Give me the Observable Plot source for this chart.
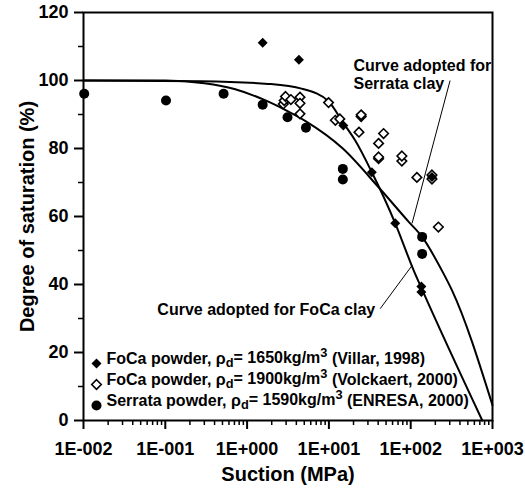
<!DOCTYPE html>
<html><head><meta charset="utf-8">
<script src="https://cdn.jsdelivr.net/npm/d3@7"></script>
<script src="https://cdn.jsdelivr.net/npm/@observablehq/plot@0.6"></script>
<style>
html,body{margin:0;padding:0;background:#fff;}
#chart svg{display:block;}
</style></head><body><div id="chart"></div>
<script>
// ---- Data ----
const xTicks = [0.01, 0.1, 1, 10, 100, 1000];
const xTickLabels = ["1E-002", "1E-001", "1E+000", "1E+001", "1E+002", "1E+003"];
const yTicks = [0, 20, 40, 60, 80, 100, 120];
const yMinorTicks = [10, 30, 50, 70, 90, 110];

// FoCa powder, rho_d = 1650 (Villar, 1998) - filled diamonds
const villarSuction    = [1.55, 4.3, 15, 33.5, 64.7, 135, 135, 182];
const villarSaturation = [111.1, 106.1, 86.8, 73, 58, 39.4, 37.8, 71.6];

// FoCa powder, rho_d = 1900 (Volckaert, 2000) - open diamonds
const volckaertSuction    = [2.77, 2.84, 2.95, 3.43, 4.43, 4.43, 4.43, 9.9, 12.0, 13.6, 23.3, 24.8, 24.8, 40.5, 46.6, 40.5, 40.5, 78, 78, 119, 182, 182, 218];
const volckaertSaturation = [93.1, 94.1, 95.3, 94.4, 95.1, 93.3, 90.2, 93.5, 88.3, 88.7, 84.8, 89.4, 89.9, 81.5, 84.4, 77, 77.5, 76.3, 77.8, 71.5, 72.2, 71.0, 56.9];

// Serrata powder, rho_d = 1590 (ENRESA, 2000) - filled circles
const serrataSuction    = [0.0102, 0.102, 0.516, 1.55, 3.12, 5.24, 14.8, 14.8, 138, 138];
const serrataSaturation = [96.1, 94.1, 96.1, 92.9, 89.2, 86.1, 74, 70.9, 54, 49];

// Curve adopted for Serrata clay
const serrataCurveSuction    = [0.01, 0.1, 0.3, 0.7, 1.55, 3.12, 5.24, 14.8, 40.5, 94, 138, 242, 321, 1000];
const serrataCurveSaturation = [100, 100, 99.2, 97.5, 94.5, 91, 88, 80, 68.6, 58.5, 54, 44, 38.2, 4.5];

// Curve adopted for FoCa clay
const focaCurveSuction    = [0.01, 0.275, 1.81, 4.63, 9.86, 15, 20.9, 33.5, 64.7, 109, 138, 750];
const focaCurveSaturation = [100, 99.8, 99.0, 97.6, 93.9, 87.5, 82.4, 73, 58, 44.1, 38.5, 0];

// Legend entries
const legendMaterials = ["FoCa powder", "FoCa powder", "Serrata powder"];
const legendDensities = [1650, 1900, 1590];
const legendSources = ["Villar, 1998", "Volckaert, 2000", "ENRESA, 2000"];

// Annotations
const annotationTexts = ["Curve adopted for\nSerrata clay", "Curve adopted for FoCa clay"];
const annotationX = [20, 36.8];
const annotationY = [101.8, 32.4];
const leaderX1 = [303, 42.4];
const leaderY1 = [100, 32.9];
const leaderX2 = [104, 104];
const leaderY2 = [58, 45.6];

// ---- Build tables ----
const zip = (xs, ys) => xs.map((x, i) => ({x, y: ys[i]}));
const villar = zip(villarSuction, villarSaturation);
const volckaert = zip(volckaertSuction, volckaertSaturation);
const serrata = zip(serrataSuction, serrataSaturation);
const serrataCurve = zip(serrataCurveSuction, serrataCurveSaturation);
const focaCurve = zip(focaCurveSuction, focaCurveSaturation);
const leaders = leaderX1.map((x1, i) => ({x1, y1: leaderY1[i], x2: leaderX2[i], y2: leaderY2[i]}));
const minorX = [];
for (const d of xTicks.slice(0, -1)) for (let k = 2; k <= 9; k++) minorX.push(+(k * d).toPrecision(3));

const FONT = "'Liberation Sans', Arial, Helvetica, sans-serif";
const legendDy = [-57, -36, -15];
const legendSymbols = [
  {symbol: "diamond2", r: 4.5, fill: "#000", stroke: "none", strokeWidth: 0},
  {symbol: "diamond2", r: 4.3, fill: "#fff", stroke: "#000", strokeWidth: 1.6},
  {symbol: "circle", r: 5, fill: "#000", stroke: "none", strokeWidth: 0}
];
const legendMarks = legendMaterials.flatMap((m, i) => [
  Plot.dot([0], {frameAnchor: "bottom-left", dx: 13, dy: legendDy[i], ...legendSymbols[i]}),
  Plot.text([`${m}, ρd= ${legendDensities[i]}kg/m3 (${legendSources[i]})`], {
    frameAnchor: "bottom-left", dx: 23, dy: legendDy[i], textAnchor: "start",
    fontSize: 16, fontWeight: "bold", fill: "#000", className: `legend-text-${i}`})
]);

const chart = Plot.plot({
  width: 525,
  height: 490,
  marginLeft: 83,
  marginRight: 33,
  marginTop: 12,
  marginBottom: 70,
  style: {fontFamily: FONT, fontWeight: "bold", color: "#000", background: "#fff"},
  x: {type: "log", domain: [0.01, 1000], label: null},
  y: {domain: [0, 120], label: null},
  marks: [
    Plot.axisX(minorX, {tickSize: 5, strokeWidth: 1.5, tickFormat: () => "", label: null}),
    Plot.axisX(xTicks, {tickSize: 9, tickPadding: 13, strokeWidth: 2, fontSize: 18, fontWeight: "bold",
      tickFormat: (d) => xTickLabels[xTicks.indexOf(d)], label: null}),
    Plot.axisY(yMinorTicks, {tickSize: 5, strokeWidth: 1.5, tickFormat: () => "", label: null}),
    Plot.axisY(yTicks, {tickSize: 9, tickPadding: 6, strokeWidth: 2, fontSize: 18, fontWeight: "bold", label: null}),
    Plot.frame({stroke: "#000", strokeWidth: 2}),
    Plot.line(serrataCurve, {x: "x", y: "y", curve: "monotone-x", stroke: "#000", strokeWidth: 2}),
    Plot.line(focaCurve, {x: "x", y: "y", curve: "monotone-x", stroke: "#000", strokeWidth: 2}),
    Plot.link(leaders, {x1: "x1", y1: "y1", x2: "x2", y2: "y2", stroke: "#000", strokeWidth: 1}),
    Plot.dot(volckaert, {x: "x", y: "y", symbol: "diamond2", r: 4.3, fill: "#fff", stroke: "#000", strokeWidth: 1.6}),
    Plot.dot(villar, {x: "x", y: "y", symbol: "diamond2", r: 4.5, fill: "#000", stroke: "none"}),
    Plot.dot(serrata, {x: "x", y: "y", symbol: "circle", r: 5, fill: "#000", stroke: "none"}),
    Plot.text([annotationTexts[0]], {x: [annotationX[0]], y: [annotationY[0]], textAnchor: "start",
      lineHeight: 1.12, fontSize: 16, fontWeight: "bold", fill: "#000"}),
    Plot.text([annotationTexts[1]], {x: [annotationX[1]], y: [annotationY[1]], textAnchor: "end",
      fontSize: 16, fontWeight: "bold", fill: "#000"}),
    ...legendMarks,
    // axis titles
    Plot.text(["Suction (MPa)"], {frameAnchor: "bottom", dy: 60, fontSize: 20, fontWeight: "bold", fill: "#000"}),
    Plot.text(["Degree of saturation (%)"], {frameAnchor: "left", dx: -56, rotate: -90, textAnchor: "middle",
      fontSize: 20, fontWeight: "bold", fill: "#000"})
  ]
});
document.getElementById("chart").appendChild(chart);

// rich text for legend: subscript d and superscript 3
legendMaterials.forEach((m, i) => {
  const t = d3.select(chart).select(`.legend-text-${i} text`);
  t.text(null);
  t.append("tspan").text(`${m}, ρ`);
  t.append("tspan").attr("dy", "0.3em").attr("font-size", "0.8em").text("d");
  t.append("tspan").attr("dy", "-0.3em").text(`= ${legendDensities[i]}kg/m`);
  t.append("tspan").attr("dy", "-0.45em").attr("font-size", "0.8em").text("3");
  t.append("tspan").attr("dy", "0.45em").text(` (${legendSources[i]})`);
});
</script></body></html>
